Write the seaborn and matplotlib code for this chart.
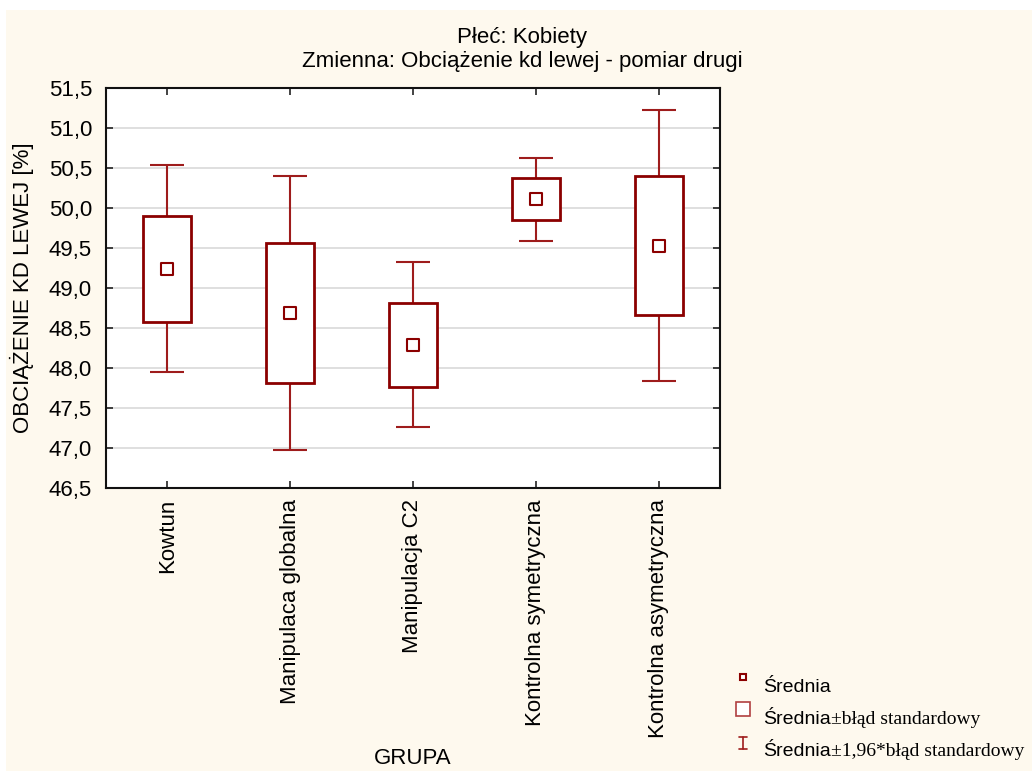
import matplotlib
matplotlib.use("Agg")
import matplotlib.pyplot as plt
from matplotlib.lines import Line2D
from matplotlib.patches import Rectangle
import seaborn as sns
import pandas as pd
import numpy as np

groups = ["Kowtun", "Manipulaca globalna", "Manipulacja C2",
          "Kontrolna symetryczna", "Kontrolna asymetryczna"]
means = [49.24, 48.69, 48.29, 50.11, 49.53]
se = [0.66, 0.875, 0.525, 0.265, 0.865]
yticks = [46.5, 47.0, 47.5, 48.0, 48.5, 49.0, 49.5, 50.0, 50.5, 51.0, 51.5]

df = pd.DataFrame({"grupa": groups, "mean": means, "se": se})
df["lo"] = df["mean"] - df["se"]
df["hi"] = df["mean"] + df["se"]
df["ci"] = 1.96 * df["se"]

sns.set_theme(style="white")
plt.rcParams["font.family"] = ["Liberation Sans", "DejaVu Sans"]
plt.rcParams["text.color"] = "black"
plt.rcParams["xtick.color"] = "black"
plt.rcParams["ytick.color"] = "black"
plt.rcParams["xtick.labelcolor"] = "black"
plt.rcParams["ytick.labelcolor"] = "black"

DARK = "#8B0000"
WHISK = "#9E1C1C"
CREAM = "#FEF9EE"
FS = 16

fig = plt.figure(figsize=(10.32, 7.71), dpi=100, facecolor="white")
fig.add_artist(Rectangle((6/1032, 0), 1 - 6/1032, (771 - 10)/771,
                         transform=fig.transFigure, facecolor=CREAM,
                         edgecolor="none", zorder=-10))
ax = fig.add_axes([106/1032, (771 - 488)/771, 614/1032, 400/771])
ax.set_facecolor("white")

x = np.arange(len(groups))
# whiskers (mean ± 1.96*SE)
ax.errorbar(x, df["mean"], yerr=df["ci"], fmt="none", ecolor=WHISK,
            elinewidth=1.5, capsize=12, capthick=1.5, zorder=2)
# boxes (mean ± SE)
ax.bar(x, df["hi"] - df["lo"], bottom=df["lo"], width=0.39,
       facecolor="white", edgecolor=DARK, linewidth=2.0, zorder=3)
# means
sns.scatterplot(data=df, x=x, y="mean", marker="s", s=70,
                facecolor="white", edgecolor=DARK, linewidth=1.5,
                ax=ax, zorder=4, legend=False)

ax.set_xlim(-0.5, 4.5)
ax.set_ylim(46.5, 51.5)
ax.set_yticks(yticks)
ax.set_yticklabels([f"{v:.1f}".replace(".", ",") for v in yticks], fontsize=FS)
ax.set_xticks(x)
ax.set_xticklabels(groups, rotation=90, fontsize=FS)
ax.yaxis.grid(True, color="#D9D9D9", linewidth=1.2, zorder=0)
ax.set_axisbelow(True)
ax.tick_params(direction="in", length=5, width=1.2, color="#222222",
               top=True, right=True, bottom=True, left=True)
ax.tick_params(axis="y", pad=10)
ax.tick_params(axis="x", pad=8)
for s in ax.spines.values():
    s.set_color("#111111")
    s.set_linewidth(1.5)
ax.set_xlabel("")
ax.set_ylabel("")

fig.text(22/1032, 1 - 288/771, "OBCIĄŻENIE KD LEWEJ [%]", rotation=90,
         ha="center", va="center", fontsize=FS)
fig.text(413/1032, 1 - 758/771, "GRUPA", ha="center", va="center", fontsize=FS)
fig.text(522/1032, 1 - 37/771, "Płeć: Kobiety", ha="center", va="center", fontsize=FS)
fig.text(522/1032, 1 - 61/771, "Zmienna: Obciążenie kd lewej - pomiar drugi",
         ha="center", va="center", fontsize=FS)

# legend
mx = 743/1032
fig.add_artist(Line2D([mx], [1 - 677/771], marker="s", markersize=5,
                      markerfacecolor="white", markeredgecolor=DARK,
                      markeredgewidth=1.5, transform=fig.transFigure))
fig.add_artist(Line2D([mx], [1 - 709/771], marker="s", markersize=10,
                      markerfacecolor="white", markeredgecolor="#B04040",
                      markeredgewidth=1.2, transform=fig.transFigure))
fig.add_artist(Line2D([mx, mx], [1 - 737/771, 1 - 749/771], color=WHISK,
                      linewidth=1.2, transform=fig.transFigure))
for yy in (737, 749):
    fig.add_artist(Line2D([mx - 4/1032, mx + 4/1032], [1 - yy/771] * 2,
                          color=WHISK, linewidth=1.2, transform=fig.transFigure))

LFS = 14
tx = 763/1032
fig.text(tx, 1 - 688/771, "Średnia", ha="left", va="center", fontsize=LFS)
t2 = fig.text(tx, 1 - 720/771, "Średnia", ha="left", va="center", fontsize=LFS)
t3 = fig.text(tx, 1 - 752/771, "Średnia", ha="left", va="center", fontsize=LFS)
fig.canvas.draw()
ax.annotate("±błąd standardowy", xy=(1, 0), xycoords=t2, ha="left", va="bottom",
            fontsize=LFS, family=["Liberation Serif", "DejaVu Serif"],
            annotation_clip=False)
ax.annotate("±1,96*błąd standardowy", xy=(1, 0), xycoords=t3, ha="left",
            va="bottom", fontsize=LFS, family=["Liberation Serif", "DejaVu Serif"],
            annotation_clip=False)

fig.savefig("out.png", dpi=100, facecolor=fig.get_facecolor())
